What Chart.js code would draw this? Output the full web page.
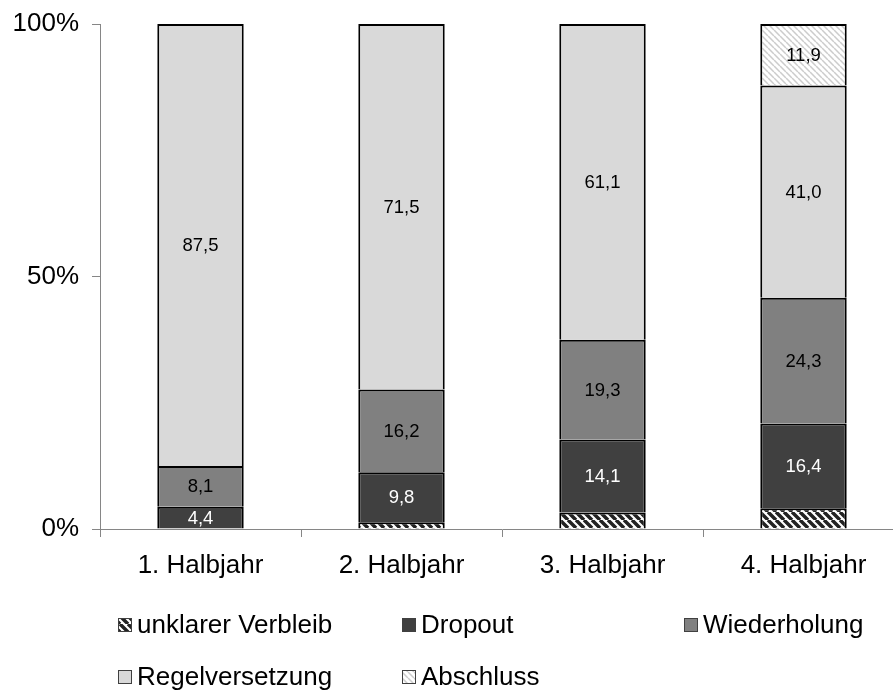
<!DOCTYPE html>
<html>
<head>
<meta charset="utf-8">
<script src="https://cdn.jsdelivr.net/npm/chart.js@4"></script>
<style>
  html, body { margin: 0; padding: 0; background: #fff; overflow: hidden; }
  #wrap { width: 905px; height: 690px; }
</style>
</head>
<body>
<div id="wrap"><canvas id="wykres" width="905" height="690"></canvas></div>
<script>
// dane z wykresu (procent na półrocze)
const categories = ['1. Halbjahr', '2. Halbjahr', '3. Halbjahr', '4. Halbjahr']
const unklarer = [0, 1.3, 3.2, 4.0]
const dropout = [4.4, 9.8, 14.1, 16.4]
const wiederholung = [8.1, 16.2, 19.3, 24.3]
const regelversetzung = [87.5, 71.5, 61.1, 41.0]
const abschluss = [0, 0, 0, 11.9]
const yTicks = [0, 50, 100]

const FONT = "'Liberation Sans', Arial, sans-serif"

// wzorki kreskowane
function stripes(bg, fg, size, lw) {
  const c = document.createElement('canvas')
  c.width = size; c.height = size
  const g = c.getContext('2d')
  g.fillStyle = bg
  g.fillRect(0, 0, size, size)
  g.strokeStyle = fg
  g.lineWidth = lw
  g.beginPath()
  for (let k = -1; k <= 1; k++) {
    g.moveTo(k * size, 0)
    g.lineTo(k * size + size, size)
  }
  g.stroke()
  return g.createPattern(c, 'repeat')
}
const ctx = document.getElementById('wykres').getContext('2d')
const hatchDark = stripes('#ffffff', '#222222', 8, 3.5)
const hatchLight = stripes('#ffffff', '#cccccc', 6, 1.5)

const series = [
  { label: 'unklarer Verbleib', values: unklarer, color: hatchDark, text: '#000' },
  { label: 'Dropout', values: dropout, color: '#404040', text: '#fff' },
  { label: 'Wiederholung', values: wiederholung, color: '#808080', text: '#000' },
  { label: 'Regelversetzung', values: regelversetzung, color: '#d9d9d9', text: '#000' },
  { label: 'Abschluss', values: abschluss, color: hatchLight, text: '#000' }
]

// 100% skumulowany - liczymy udział
const totals = categories.map((c, i) => series.reduce((s, d) => s + d.values[i], 0))

const data = {
  labels: categories,
  datasets: series.map(s => ({
    label: s.label,
    data: s.values.map((v, i) => v > 0 ? v / totals[i] * 100 : null),
    raw: s.values,
    textColor: s.text,
    backgroundColor: s.color,
    borderColor: '#000',
    borderWidth: 2,
    barPercentage: 0.43,
    categoryPercentage: 1
  }))
}

// etykiety w segmentach
const valueLabels = {
  id: 'valueLabels',
  afterDatasetsDraw(chart) {
    const c = chart.ctx
    c.save()
    c.font = '18.5px ' + FONT
    c.textAlign = 'center'
    c.textBaseline = 'middle'
    chart.data.datasets.forEach((ds, di) => {
      if (di === 0) return
      chart.getDatasetMeta(di).data.forEach((bar, i) => {
        const v = ds.raw[i]
        if (!v) return
        c.fillStyle = ds.textColor
        c.fillText(v.toFixed(1).replace('.', ','), bar.x, (bar.y + bar.base) / 2 + 1)
      })
    })
    c.restore()
  }
}

// legenda jak w Excelu
const legendBox = {
  id: 'legendBox',
  afterDraw(chart) {
    const c = chart.ctx
    const pos = [[118, 625], [402, 625], [684, 625], [118, 677], [402, 677]]
    c.save()
    c.font = '26px ' + FONT
    c.textBaseline = 'middle'
    chart.data.datasets.forEach((ds, i) => {
      const [x, y] = pos[i]
      c.fillStyle = ds.backgroundColor
      c.fillRect(x, y - 7, 14, 14)
      c.strokeStyle = '#404040'
      c.lineWidth = 1
      c.strokeRect(x + 0.5, y - 6.5, 13, 13)
      c.fillStyle = '#000'
      c.fillText(ds.label, x + 19, y + 1)
    })
    c.restore()
  }
}

new Chart(ctx, {
  type: 'bar',
  data: data,
  options: {
    responsive: false,
    animation: false,
    layout: { padding: { top: 24, bottom: 91, left: 0, right: 1 } },
    plugins: { legend: { display: false }, tooltip: { enabled: false } },
    scales: {
      x: {
        stacked: true,
        afterFit: s => { s.height = 70; s.paddingLeft = 0; s.paddingRight = 0 },
        grid: { drawOnChartArea: false, tickLength: 8, color: '#868686', offset: true },
        border: { color: '#868686', width: 1 },
        ticks: { color: '#000', font: { family: FONT, size: 26 }, padding: 13, maxRotation: 0 }
      },
      y: {
        stacked: true,
        min: 0,
        max: 100,
        afterFit: s => { s.width = 100; s.paddingTop = 0; s.paddingBottom = 0 },
        afterBuildTicks: s => { s.ticks = yTicks.map(v => ({ value: v })) },
        grid: { drawOnChartArea: false, tickLength: 8, color: '#868686' },
        border: { color: '#868686', width: 1 },
        ticks: { color: '#000', font: { family: FONT, size: 26 }, padding: 13, callback: v => v + '%' }
      }
    }
  },
  plugins: [valueLabels, legendBox]
})
</script>
</body>
</html>
